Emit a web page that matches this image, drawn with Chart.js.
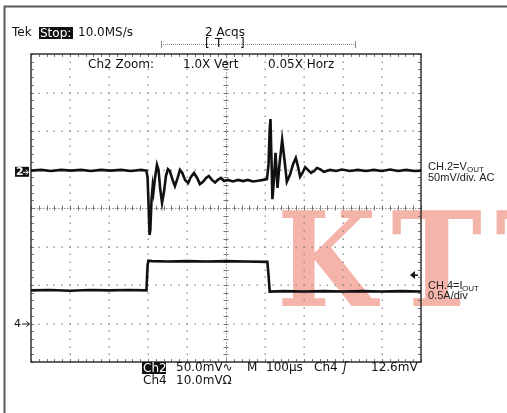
<!DOCTYPE html>
<html><head><meta charset="utf-8">
<script src="https://cdn.jsdelivr.net/npm/chart.js@4/dist/chart.umd.min.js"></script>
<style>html,body{margin:0;padding:0;background:#fff;overflow:hidden}</style>
</head><body>
<canvas id="c" width="507" height="413" style="display:block;width:507px;height:413px"></canvas>
<script>
// Horizontal axis: screen divisions (0..10); vertical axis: screen divisions (-4..4)
const ch2Time = [0.00,0.26,0.51,0.77,1.03,1.28,1.54,1.79,2.05,2.31,2.56,2.82,2.96,2.99,3.01,3.04,3.06,3.09,3.12,3.14,3.18,3.23,3.27,3.31,3.36,3.41,3.46,3.51,3.56,3.63,3.69,3.76,3.82,3.88,3.95,4.03,4.10,4.18,4.26,4.33,4.41,4.49,4.56,4.64,4.72,4.79,4.87,4.95,5.05,5.18,5.31,5.44,5.56,5.69,5.82,5.95,6.05,6.09,6.12,6.14,6.17,6.19,6.22,6.27,6.32,6.37,6.44,6.50,6.56,6.64,6.72,6.79,6.85,6.90,6.96,7.03,7.10,7.18,7.26,7.33,7.41,7.51,7.67,7.82,7.97,8.18,8.38,8.59,8.79,9.00,9.21,9.41,9.62,9.82,10.00];
const ch2Div  = [0.97,0.99,0.96,0.99,0.97,0.99,0.96,0.99,0.97,0.99,0.96,0.99,0.97,0.78,0.21,-0.70,-0.57,0.21,0.57,0.42,0.78,1.12,0.99,0.52,0.13,0.42,0.83,1.01,0.96,0.73,0.57,0.78,0.99,0.91,0.73,0.65,0.81,0.91,0.78,0.62,0.68,0.78,0.83,0.73,0.66,0.73,0.78,0.70,0.73,0.69,0.73,0.70,0.73,0.69,0.71,0.73,0.75,1.12,2.03,2.31,1.12,0.23,0.60,1.43,0.52,1.12,1.77,1.25,0.68,0.86,1.14,1.30,1.06,0.81,0.91,1.06,0.99,0.91,0.96,1.04,1.01,0.94,0.99,0.96,1.00,0.96,0.99,0.96,0.99,0.96,1.00,0.96,0.99,0.96,0.97];
const ch4Time = [0.00,0.50,1.00,1.50,2.00,2.50,2.96,2.99,3.01,3.10,3.50,4.00,4.50,5.00,5.50,6.06,6.09,6.12,6.50,7.00,7.50,8.00,8.50,9.00,9.50,10.00];
const ch4Div  = [-2.14,-2.13,-2.15,-2.13,-2.14,-2.13,-2.14,-1.48,-1.37,-1.38,-1.39,-1.38,-1.39,-1.38,-1.39,-1.40,-1.74,-2.17,-2.16,-2.17,-2.16,-2.17,-2.16,-2.17,-2.16,-2.17];
const groundLevels = [0.94, -3.0];   // ch2, ch4 reference markers
const triggerLevel = -1.74;
const xDivisions = [0,1,2,3,4,5,6,7,8,9,10];
const yDivisions = [-4,-3,-2,-1,0,1,2,3,4];

const toPts = (xs, ys) => xs.map((x, i) => ({x, y: ys[i]}));

const scopePlugin = {
  id: 'scope',
  beforeDraw(chart) {
    const ctx = chart.ctx;
    ctx.save();
    ctx.fillStyle = '#fff';
    ctx.fillRect(0, 0, chart.width, chart.height);
    ctx.strokeStyle = '#5a5a5a';
    ctx.lineWidth = 2;
    ctx.beginPath();
    ctx.moveTo(4.5, 413); ctx.lineTo(4.5, 6.5); ctx.lineTo(507, 6.5);
    ctx.stroke();
    ctx.fillStyle = '#f5b4aa';
    ctx.font = 'bold 140px "DejaVu Serif"';
    const fit = (ch, x0, x1, y0, y1) => {
      const m = ctx.measureText(ch);
      const w = m.actualBoundingBoxLeft + m.actualBoundingBoxRight;
      const h = m.actualBoundingBoxAscent;
      ctx.save();
      ctx.translate(x0, y1);
      ctx.scale((x1 - x0) / w, (y1 - y0) / h);
      ctx.textBaseline = 'alphabetic';
      ctx.fillText(ch, m.actualBoundingBoxLeft, 0);
      ctx.restore();
    };
    fit('K', 282, 380, 209, 306);
    fit('T', 392, 481, 209, 306);
    fit('T', 496, 585, 209, 306);
    ctx.restore();
  },
  beforeDatasetsDraw(chart) {
    const ctx = chart.ctx, xs = chart.scales.x, ys = chart.scales.y;
    const px = v => xs.getPixelForValue(v), py = v => ys.getPixelForValue(v);
    const L = px(0), R = px(10), T = py(4), B = py(-4);
    ctx.save();
    ctx.fillStyle = '#8c8c8c';
    xDivisions.forEach(d => {
      if (d === 0 || d === 10 || d === 5) return;
      for (let j = 0; j <= 40; j++) {
        const yy = py(-4 + j * 0.2);
        ctx.fillRect(Math.round(px(d)) - 0.5, Math.round(yy) - 0.5, 1.4, 1.4);
      }
    });
    yDivisions.forEach(d => {
      if (d === -4 || d === 4 || d === 0) return;
      for (let j = 0; j <= 50; j++) {
        const xx = px(j * 0.2);
        ctx.fillRect(Math.round(xx) - 0.5, Math.round(py(d)) - 0.5, 1.4, 1.4);
      }
    });
    ctx.strokeStyle = '#8c8c8c';
    ctx.lineWidth = 1;
    ctx.setLineDash([1.5, 1.5]);
    ctx.beginPath();
    ctx.moveTo(L, Math.round(py(0)) + 0.5); ctx.lineTo(R, Math.round(py(0)) + 0.5);
    ctx.moveTo(Math.round(px(5)) + 0.5, T); ctx.lineTo(Math.round(px(5)) + 0.5, B);
    ctx.stroke();
    ctx.setLineDash([]);
    ctx.strokeStyle = '#777';
    ctx.beginPath();
    for (let j = 0; j <= 50; j++) {
      const xx = Math.round(px(j * 0.2)) + 0.5, yc = py(0);
      ctx.moveTo(xx, yc - 2.5); ctx.lineTo(xx, yc + 2.5);
      ctx.moveTo(xx, T); ctx.lineTo(xx, T + 3);
      ctx.moveTo(xx, B); ctx.lineTo(xx, B - 3);
    }
    for (let j = 0; j <= 40; j++) {
      const yy = Math.round(py(-4 + j * 0.2)) + 0.5, xc = px(5);
      ctx.moveTo(xc - 2.5, yy); ctx.lineTo(xc + 2.5, yy);
      ctx.moveTo(L, yy); ctx.lineTo(L + 3, yy);
      ctx.moveTo(R, yy); ctx.lineTo(R - 3, yy);
    }
    ctx.stroke();
    ctx.strokeStyle = '#333';
    ctx.lineWidth = 1.5;
    ctx.strokeRect(L, T, R - L, B - T);
    ctx.restore();
  },
  afterDraw(chart) {
    const ctx = chart.ctx, xs = chart.scales.x, ys = chart.scales.y;
    const py = v => ys.getPixelForValue(v);
    ctx.save();
    ctx.textBaseline = 'middle';
    const sf = '12px "DejaVu Sans"';
    const txt = (s, x, y, f, c) => { ctx.font = f || sf; ctx.fillStyle = c || '#111'; ctx.fillText(s, x, y); };
    const hl = (s, x0, x1, y) => {
      ctx.fillStyle = '#111'; ctx.fillRect(x0, y - 6, x1 - x0, 12);
      txt(s, x0 + 1, y + 0.5, sf, '#fff');
    };
    txt('Tek', 12, 33);
    hl('Stop:', 39, 73, 33);
    txt('10.0MS/s', 78, 33);
    txt('2 Acqs', 205, 33);
    ctx.strokeStyle = '#888'; ctx.lineWidth = 1;
    ctx.setLineDash([1, 1]);
    ctx.beginPath(); ctx.moveTo(161, 44.5); ctx.lineTo(356, 44.5); ctx.stroke();
    ctx.setLineDash([]);
    ctx.beginPath(); ctx.moveTo(161.5, 41); ctx.lineTo(161.5, 48); ctx.moveTo(355.5, 41); ctx.lineTo(355.5, 48); ctx.stroke();
    txt('[', 205, 44); txt('T', 215, 44); txt(']', 240, 44);
    txt('Ch2 Zoom:', 88, 65);
    txt('1.0X Vert', 183, 65);
    txt('0.05X Horz', 268, 65);
    const g2 = py(groundLevels[0]), g4 = py(groundLevels[1]);
    ctx.fillStyle = '#111'; ctx.fillRect(15, g2 - 5, 14, 10);
    txt('2', 16, g2 + 0.5, 'bold 11px "DejaVu Sans"', '#fff');
    ctx.strokeStyle = '#fff'; ctx.lineWidth = 1;
    ctx.beginPath(); ctx.moveTo(23, g2 + 0.5); ctx.lineTo(28, g2 + 0.5); ctx.stroke();
    ctx.beginPath(); ctx.moveTo(26, g2 - 2); ctx.lineTo(28.5, g2 + 0.5); ctx.lineTo(26, g2 + 3); ctx.stroke();
    txt('4', 14, g4 + 0.5, '11px "DejaVu Sans"');
    ctx.strokeStyle = '#111';
    ctx.beginPath(); ctx.moveTo(22, g4 + 0.5); ctx.lineTo(29, g4 + 0.5); ctx.stroke();
    ctx.beginPath(); ctx.moveTo(26.5, g4 - 2); ctx.lineTo(29.5, g4 + 0.5); ctx.lineTo(26.5, g4 + 3); ctx.stroke();
    const tl = py(triggerLevel);
    ctx.fillStyle = '#111';
    ctx.beginPath(); ctx.moveTo(410, tl); ctx.lineTo(415, tl - 4); ctx.lineTo(415, tl + 4); ctx.closePath(); ctx.fill();
    ctx.fillRect(415, tl - 0.5, 3, 1.5);
    const rf = '11px "Liberation Sans"', sub = '8px "Liberation Sans"';
    txt('CH.2=V', 428, 167, rf, '#222');
    txt('OUT', 467, 170, sub, '#222');
    txt('50mV/div. AC', 428, 177.5, rf, '#222');
    txt('CH.4=I', 428, 285.5, rf, '#222');
    txt('OUT', 462, 288.5, sub, '#222');
    txt('0.5A/div', 428, 296, rf, '#222');
    hl('Ch2', 142, 166, 368);
    txt('50.0mV\u223F', 176, 368);
    txt('M', 247, 368);
    txt('100\u00B5s', 266, 368);
    txt('Ch4', 314, 368);
    txt('\u0283', 343, 368, 'italic 12px "DejaVu Sans"');
    txt('12.6mV', 371, 368);
    txt('Ch4', 143, 380.5);
    txt('10.0mV\u03A9', 176, 380.5);
    ctx.restore();
  }
};

new Chart(document.getElementById('c'), {
  type: 'line',
  data: {
    datasets: [
      { label: 'CH2 Vout', data: toPts(ch2Time, ch2Div), borderColor: '#111', borderWidth: 2.6, pointRadius: 0, tension: 0, fill: false },
      { label: 'CH4 Iout', data: toPts(ch4Time, ch4Div), borderColor: '#111', borderWidth: 2.6, pointRadius: 0, tension: 0, fill: false }
    ]
  },
  options: {
    responsive: false,
    animation: false,
    devicePixelRatio: 1,
    layout: { padding: { left: 31, top: 54, right: 86, bottom: 51 } },
    plugins: { legend: { display: false }, tooltip: { enabled: false } },
    scales: {
      x: { type: 'linear', min: 0, max: 10, display: false },
      y: { type: 'linear', min: -4, max: 4, display: false }
    }
  },
  plugins: [scopePlugin]
});
</script>
</body></html>
